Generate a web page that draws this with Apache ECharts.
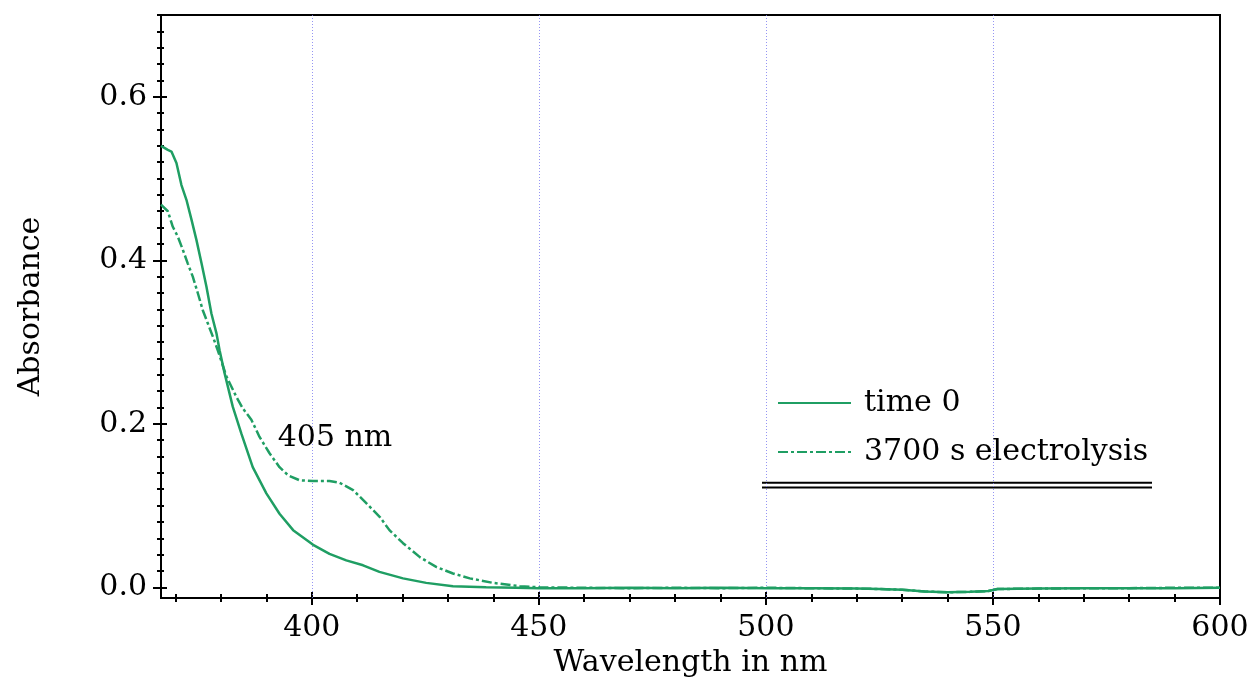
<!DOCTYPE html>
<html>
<head>
<meta charset="utf-8">
<script src="https://cdn.jsdelivr.net/npm/echarts@6/dist/echarts.min.js"></script>
<style>html,body{margin:0;padding:0;background:#fff;}#c{width:1253px;height:691px;}</style>
</head>
<body>
<div id="c"></div>
<script>
// ---- data ----
const time0Wavelength = [366.8, 368.3, 369.1, 370.2, 371.3, 372.4, 373.5, 374.6, 375.7, 376.8, 377.9, 379.0, 379.7, 380.8, 382.6, 384.5, 387.0, 390.0, 392.9, 395.9, 400.3, 403.9, 407.6, 411.3, 414.9, 420.1, 425.2, 431.1, 438.4, 445, 450, 460, 470, 480, 490, 500, 510, 520, 525, 530, 535, 540, 545, 549, 551, 560, 570, 580, 590, 600];
const time0Absorbance = [0.540, 0.535, 0.533, 0.519, 0.492, 0.474, 0.450, 0.425, 0.397, 0.368, 0.335, 0.311, 0.290, 0.262, 0.221, 0.188, 0.147, 0.115, 0.090, 0.070, 0.052, 0.041, 0.033, 0.027, 0.019, 0.011, 0.0055, 0.0015, 0.000, -0.0005, -0.001, -0.001, -0.0005, -0.001, -0.0005, -0.001, -0.001, -0.0015, -0.002, -0.003, -0.005, -0.006, -0.0055, -0.0045, -0.002, -0.0015, -0.001, -0.001, -0.001, -0.0005];
const elecWavelength = [366.8, 368.3, 369.4, 370.5, 371.6, 372.7, 373.8, 374.9, 376.0, 377.1, 378.2, 379.3, 381.2, 383.4, 384.8, 386.7, 388.5, 390.7, 392.9, 394.8, 397.3, 400.3, 403.9, 406.1, 409.1, 412.0, 415.0, 417.1, 420.1, 423.8, 427.4, 431.1, 434.8, 439.9, 445.8, 450.2, 460, 470, 480, 490, 500, 510, 520, 525, 530, 535, 540, 545, 549, 551, 560, 570, 580, 590, 600];
const elecAbsorbance = [0.468, 0.460, 0.441, 0.429, 0.413, 0.396, 0.380, 0.360, 0.339, 0.323, 0.307, 0.290, 0.258, 0.233, 0.219, 0.205, 0.184, 0.164, 0.147, 0.137, 0.131, 0.130, 0.130, 0.128, 0.119, 0.103, 0.086, 0.070, 0.054, 0.037, 0.025, 0.017, 0.011, 0.0055, 0.0015, 0.000, -0.0005, -0.001, -0.0005, -0.001, -0.0005, -0.001, -0.0015, -0.002, -0.003, -0.005, -0.006, -0.0055, -0.0045, -0.002, -0.0015, -0.001, -0.001, -0.0005, -0.0005];
const seriesNames = ['time 0', '3700 s electrolysis'];
const xMajorTicks = [400, 450, 500, 550, 600];
const xMinorTicks = [370, 380, 390, 410, 420, 430, 440, 460, 470, 480, 490, 510, 520, 530, 540, 560, 570, 580, 590];
const xGridLines = [400, 450, 500, 550];
const yMajorTicks = [0, 0.2, 0.4, 0.6];
const yMinorTicks = [0.02, 0.04, 0.06, 0.08, 0.1, 0.12, 0.14, 0.16, 0.18, 0.22, 0.24, 0.26, 0.28, 0.3, 0.32, 0.34, 0.36, 0.38, 0.42, 0.44, 0.46, 0.48, 0.5, 0.52, 0.54, 0.56, 0.58, 0.62, 0.64, 0.66, 0.68, 0.7];
const annotationText = '405 nm';
const annotationAt = [392.5, 0.183];

const FONT = "'DejaVu Serif', serif";
const GREEN = '#1f9e63';
const X_MIN = 366.8, X_MAX = 600, Y_MIN = -0.013, Y_MAX = 0.7;

function pairs(xs, ys) { return xs.map((x, i) => [x, ys[i]]); }

function xAx(opts) {
  return Object.assign({
    type: 'value', min: X_MIN, max: X_MAX, position: 'bottom',
    axisLine: { show: false, onZero: false }, splitLine: { show: false },
    axisLabel: { show: false }, axisTick: { show: false }
  }, opts);
}
function yAx(opts) {
  return Object.assign({
    type: 'value', min: Y_MIN, max: Y_MAX, position: 'left',
    axisLine: { show: false, onZero: false }, splitLine: { show: false },
    axisLabel: { show: false }, axisTick: { show: false }
  }, opts);
}
const tickLine = { color: '#000', width: 2 };

const option = {
  backgroundColor: '#fff',
  animation: false,
  grid: { left: 161, right: 33, top: 15, bottom: 93, show: true, borderColor: '#000', borderWidth: 2 },
  legend: {
    orient: 'vertical', left: 772, top: 383,
    itemWidth: 73, itemHeight: 30, itemGap: 19,
    itemStyle: { color: 'rgba(0,0,0,0)', opacity: 0, borderWidth: 0 },
    textStyle: { fontFamily: FONT, fontSize: 30, color: '#000', lineHeight: 30, padding: [0, 0, 0, 8] },
    data: seriesNames
  },
  xAxis: [
    xAx({
      axisLine: { show: true, lineStyle: { color: '#000', width: 2 }, onZero: false },
      axisTick: { show: true, customValues: xMajorTicks, length: 7, lineStyle: tickLine },
      axisLabel: { show: true, customValues: xMajorTicks, margin: 15, fontFamily: FONT, fontSize: 30, color: '#000' },
      name: 'Wavelength in nm', nameLocation: 'middle', nameGap: 47,
      nameTextStyle: { fontFamily: FONT, fontSize: 30, color: '#000' }
    }),
    xAx({ axisTick: { show: true, inside: true, customValues: xMajorTicks, length: 6, lineStyle: tickLine } }),
    xAx({ axisTick: { show: true, customValues: xMinorTicks, length: 4, lineStyle: tickLine } }),
    xAx({ axisTick: { show: true, inside: true, customValues: xMinorTicks, length: 4, lineStyle: tickLine } })
  ],
  yAxis: [
    yAx({
      axisLine: { show: true, lineStyle: { color: '#000', width: 2 }, onZero: false },
      axisTick: { show: true, customValues: yMajorTicks, length: 8, lineStyle: tickLine },
      axisLabel: { show: true, customValues: yMajorTicks, margin: 14, fontFamily: FONT, fontSize: 30, color: '#000',
        formatter: v => v.toFixed(1) },
      name: 'Absorbance', nameLocation: 'middle', nameGap: 115, nameRotate: 90,
      nameTextStyle: { fontFamily: FONT, fontSize: 30, color: '#000' }
    }),
    yAx({ axisTick: { show: true, inside: true, customValues: yMajorTicks, length: 6, lineStyle: tickLine } }),
    yAx({ axisTick: { show: true, customValues: yMinorTicks, length: 4, lineStyle: tickLine } }),
    yAx({ axisTick: { show: true, inside: true, customValues: yMinorTicks, length: 3, lineStyle: tickLine } })
  ],
  series: [
    {
      name: seriesNames[0], type: 'line', xAxisIndex: 0, yAxisIndex: 0,
      data: pairs(time0Wavelength, time0Absorbance),
      showSymbol: false, symbol: 'none', smooth: false,
      lineStyle: { color: GREEN, width: 2.5 }, itemStyle: { color: GREEN },
      z: 3,
      markLine: {
        silent: true, symbol: 'none', label: { show: false },
        lineStyle: { type: [1, 2], color: '#7b7bf0', width: 1, opacity: 0.8 },
        data: xGridLines.map(v => ({ xAxis: v })),
        z: 1
      }
    },
    {
      name: seriesNames[1], type: 'line', xAxisIndex: 0, yAxisIndex: 0,
      data: pairs(elecWavelength, elecAbsorbance),
      showSymbol: false, symbol: 'none', smooth: false,
      lineStyle: { color: GREEN, width: 2.5, type: [10, 3, 3, 3] }, itemStyle: { color: GREEN },
      z: 4,
      markPoint: {
        symbol: 'circle', symbolSize: 0, silent: true,
        label: { show: true, position: 'right', distance: 0, formatter: annotationText,
          fontFamily: FONT, fontSize: 30, color: '#000' },
        data: [{ coord: annotationAt }]
      }
    }
  ],
  graphic: [
    { type: 'line', shape: { x1: 762, y1: 482.8, x2: 1152, y2: 482.8 }, style: { stroke: '#000', lineWidth: 2 } },
    { type: 'line', shape: { x1: 762, y1: 487.5, x2: 1152, y2: 487.5 }, style: { stroke: '#000', lineWidth: 2 } }
  ]
};

const chart = echarts.init(document.getElementById('c'), null, { renderer: 'canvas' });
chart.setOption(option);
</script>
</body>
</html>
